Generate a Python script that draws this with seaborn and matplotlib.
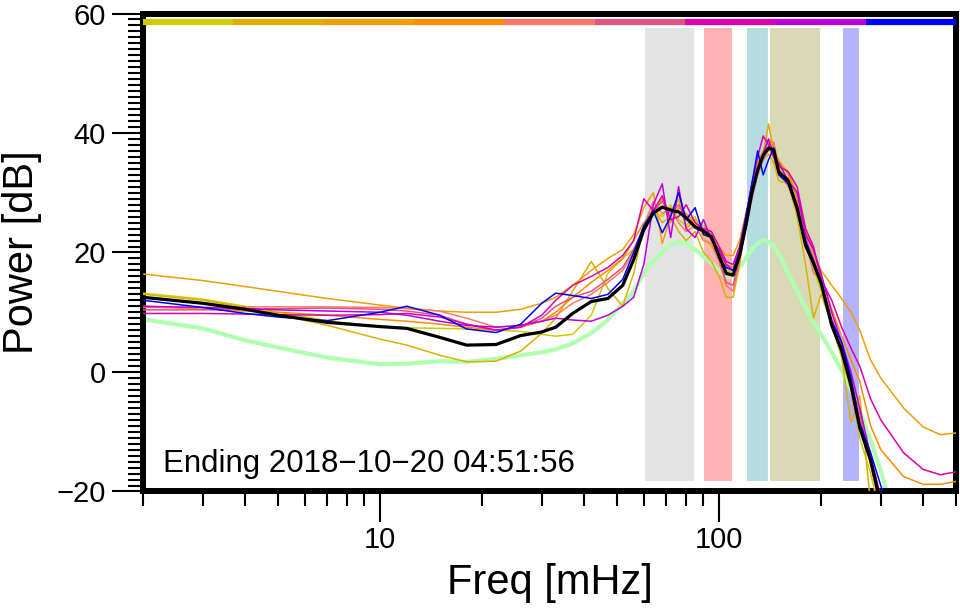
import numpy as np
import matplotlib
matplotlib.use("Agg")
import matplotlib.pyplot as plt
from matplotlib.ticker import MultipleLocator, LogLocator, NullFormatter
import seaborn as sns

# frequency grid (mHz) shared by all spectra
freq_mhz = [2, 3, 4, 5, 7, 10, 12, 15, 18, 22, 26, 30, 33, 37, 42, 47, 52, 56, 60, 64,
            68, 72, 76, 80, 85, 90, 95, 100, 105, 110, 115, 120, 125, 130, 135, 140, 145, 150, 160, 170,
            180, 190, 200, 215, 230, 245, 260, 280, 300, 350, 400, 450, 500]

# power (dB) of each station spectrum
yellow = [13.2, 12.2, 11.0, 10.0, 8.6, 7.6, 7.4, 7.3, 7.2, 7.0, 6.8, 6.3, 6.0, 6.3, 9.5,
          16.5, 19.0, 20.5, 24.0, 27.0, 26.0, 28.0, 25.5, 24.5, 26.0, 22.5, 21.0, 19.0, 17.0, 16.5,
          20.0, 26.0, 31.0, 34.5, 37.0, 38.5, 36.5, 34.5, 31.0, 28.5, 21.5, 17.5, 13.5, 8.0, 2.5,
          -3.0, -11.0, -17.0, -24.0, -40.0, -40.0, -40.0, -40.0]
gold = [13.0, 12.0, 10.8, 9.6, 7.8, 5.5, 4.5, 2.8, 1.7, 1.8, 3.5, 6.5, 9.0, 13.5, 18.5,
        14.0, 11.0, 16.5, 24.5, 27.5, 25.0, 26.0, 23.5, 22.0, 23.5, 20.0, 18.5, 16.0, 12.5, 12.5,
        18.0, 25.0, 30.5, 33.0, 35.5, 36.5, 35.0, 32.0, 31.5, 26.0, 18.0, 9.0, 13.0, 8.0, 2.5,
        -8.5, -4.0, -22.0, -30.0, -40.0, -40.0, -40.0, -40.0]
amber = [16.4, 15.3, 14.3, 13.5, 12.3, 11.2, 10.7, 10.2, 10.0, 10.0, 10.5, 11.5, 12.5, 14.5, 17.0,
         19.0, 20.5, 23.0, 27.5, 30.0, 21.5, 26.0, 29.0, 24.0, 25.5, 24.5, 23.0, 21.0, 19.5, 19.5,
         22.0, 26.5, 30.5, 34.0, 36.5, 41.5, 37.0, 35.5, 33.0, 30.0, 24.0, 20.0, 17.0, 14.5, 12.3,
         10.0, 7.0, 2.0, -1.0, -6.0, -9.2, -10.5, -10.2]
orange = [11.0, 10.5, 10.2, 10.0, 9.5, 8.8, 8.5, 8.0, 7.5, 7.0, 7.5, 8.5, 10.0, 12.5, 15.0,
          17.0, 19.0, 22.0, 25.0, 26.5, 29.0, 25.0, 27.5, 26.5, 25.0, 23.0, 22.5, 20.0, 18.0, 17.5,
          21.0, 26.0, 31.5, 35.0, 37.0, 39.0, 38.0, 35.0, 33.5, 29.0, 23.5, 20.0, 16.0, 10.5, 6.0,
          2.0, -1.5, -9.0, -13.0, -17.5, -18.8, -18.8, -18.3]
salmon = [10.8, 10.8, 10.9, 10.9, 10.9, 10.8, 10.6, 10.2, 9.0, 7.5, 7.8, 8.5, 9.5, 11.5, 13.0,
          15.0, 17.0, 20.0, 24.5, 28.5, 26.5, 27.5, 25.0, 23.5, 24.5, 22.0, 21.5, 18.5, 14.5, 13.5,
          18.5, 24.5, 29.5, 33.5, 36.0, 37.0, 38.5, 34.0, 31.0, 28.0, 22.0, 16.5, 15.5, 9.0, 5.0,
          -1.0, -7.5, -15.0, -22.0, -40.0, -40.0, -40.0, -40.0]
rose = [10.4, 10.4, 10.5, 10.6, 10.7, 10.5, 10.2, 9.5, 8.0, 7.0, 7.5, 9.0, 11.0, 12.5, 13.5,
        15.5, 17.5, 20.5, 24.0, 27.0, 28.5, 26.5, 28.0, 26.0, 24.0, 23.5, 23.0, 19.0, 15.0, 14.5,
        19.0, 24.0, 29.0, 33.0, 35.5, 37.5, 36.0, 33.0, 32.5, 27.0, 22.5, 19.0, 15.0, 8.5, 4.5,
        -2.5, -7.0, -15.5, -23.0, -40.0, -40.0, -40.0, -40.0]
magenta = [9.8, 9.8, 9.7, 9.6, 9.5, 9.6, 9.8, 9.2, 8.0, 7.0, 7.5, 9.5, 12.0, 14.5, 16.0,
           17.5, 19.5, 22.0, 29.0, 27.0, 29.5, 25.5, 26.0, 28.0, 25.0, 24.0, 23.5, 21.0, 18.5, 18.0,
           21.0, 26.0, 31.5, 36.0, 39.5, 38.0, 36.5, 34.5, 33.5, 31.0, 24.0, 21.0, 15.5, 12.0, 7.5,
           4.0, 1.0, -4.5, -8.0, -13.5, -16.3, -17.2, -16.7]
purple = [11.0, 10.8, 10.6, 10.4, 10.2, 10.0, 9.5, 8.5, 7.8, 7.5, 7.8, 8.5, 9.0, 8.7, 8.5,
          9.5, 11.0, 12.5, 18.0, 28.0, 31.5, 22.5, 31.0, 24.0, 22.5, 25.5, 22.0, 20.5, 18.0, 17.0,
          20.5, 25.5, 31.0, 34.0, 36.5, 39.0, 36.0, 35.0, 32.0, 30.0, 23.0, 20.5, 16.5, 10.0, 5.0,
          0.0, -6.0, -14.0, -21.0, -40.0, -40.0, -40.0, -40.0]
blue = [12.0, 10.8, 9.8, 9.2, 8.6, 10.0, 11.0, 9.5, 7.2, 6.6, 8.0, 11.5, 13.2, 12.8, 12.3,
        13.0, 15.5, 20.0, 24.5, 27.0, 23.3, 26.0, 30.0, 25.5, 27.5, 23.0, 22.5, 19.0, 17.5, 17.0,
        20.0, 26.0, 31.5, 37.0, 33.0, 35.5, 37.5, 33.0, 31.5, 27.0, 22.0, 18.5, 15.0, 8.5, 5.0,
        -1.0, -8.5, -13.5, -19.0, -30.0, -40.0, -40.0, -40.0]

# network mean and background noise model
mean_power = [12.5, 11.5, 10.5, 9.5, 8.3, 7.6, 7.3, 5.8, 4.5, 4.6, 6.1, 6.7, 7.5, 9.8, 11.8,
              12.3, 14.5, 18.8, 23.8, 26.6, 27.6, 27.1, 26.8, 25.8, 24.3, 23.6, 22.6, 19.5, 16.5, 16.2,
              19.5, 24.5, 30.0, 33.8, 36.3, 37.5, 37.2, 33.5, 32.0, 27.5, 21.2, 18.2, 14.9, 7.8, 3.6,
              -2.2, -9.3, -14.8, -22.0, -35.0, -40.0, -40.0, -40.0]
noise_model = [8.8, 7.3, 5.3, 4.1, 2.4, 1.3, 1.4, 1.8, 1.7, 2.2, 2.8, 3.3, 3.8, 4.8, 6.5,
               8.7, 11.5, 13.5, 16.5, 18.5, 20.0, 21.3, 21.8, 21.5, 20.5, 19.3, 18.2, 17.0, 16.0, 16.0,
               17.5, 19.0, 20.5, 21.5, 22.1, 21.8, 21.0, 19.8, 16.5, 13.5, 10.8, 8.3, 6.3, 3.3, 0.3,
               -3.0, -6.4, -11.5, -16.5, -30.0, -40.0, -40.0, -40.0]

station_series = [yellow, gold, amber, orange, salmon, rose, magenta, purple, blue]
station_colors = ["#cccc00", "#ddb000", "#eea000", "#ff8c00", "#ff7766",
                  "#dd5580", "#dd00aa", "#bb00dd", "#0000ff"]

# frequency bands (mHz)
band_edges = [(60, 85), (90, 110), (120, 140), (140, 200), (230, 260)]
band_colors = ["#e3e3e3", "#ffb3b3", "#b5dcdf", "#d9d9b5", "#b3b3ff"]

label_text = "Ending 2018\u221210\u221220 04:51:56"

sns.set_theme(style="ticks")
plt.rcParams["font.family"] = ["Liberation Sans", "DejaVu Sans"]
plt.rcParams["axes.unicode_minus"] = True

fig = plt.figure(figsize=(9.6, 6.11), dpi=100)
fig.patch.set_facecolor("white")
ax = fig.add_axes([0.149, 0.1956, 0.8468, 0.7823])
ax.set_facecolor("white")

for (lo, hi), c in zip(band_edges, band_colors):
    ax.axvspan(lo, hi, ymin=0.019, ymax=0.972, facecolor=c, edgecolor="white",
               linewidth=1.5, zorder=0.5)

sns.lineplot(x=freq_mhz, y=noise_model, color="#b0ffb0", linewidth=3.0, ax=ax, zorder=2)
for vals, c in zip(station_series, station_colors):
    sns.lineplot(x=freq_mhz, y=vals, color=c, linewidth=1.1, ax=ax, zorder=3)
sns.lineplot(x=freq_mhz, y=mean_power, color="black", linewidth=2.3, ax=ax, zorder=4)

# colour key strip along the top
n = len(station_colors)
for i, c in enumerate(station_colors):
    ax.axhline(58.6, xmin=i / n, xmax=(i + 1) / n, color=c, linewidth=4.5,
               solid_capstyle="butt", zorder=5)

ax.set_xscale("log")
ax.set_xlim(2, 500)
ax.set_ylim(-20, 60)
ax.set_xticks([10, 100])
ax.set_xticklabels(["10", "100"])
ax.xaxis.set_minor_locator(LogLocator(base=10, subs=np.arange(2, 10) * 1.0, numticks=20))
ax.xaxis.set_minor_formatter(NullFormatter())
ax.set_yticks([-20, 0, 20, 40, 60])
ax.yaxis.set_minor_locator(MultipleLocator(1))

ax.tick_params(which="major", length=22, width=1.5, color="black", labelsize=21,
               labelcolor="black", direction="out")
ax.tick_params(which="minor", length=11, width=1.5, color="black", direction="out")
ax.tick_params(axis="y", which="major", pad=5)
ax.tick_params(axis="x", which="major", pad=3)

for s in ax.spines.values():
    s.set_visible(True)
    s.set_color("black")
    s.set_linewidth(4.3)

ax.set_xlabel("Freq [mHz]", fontsize=30, color="black")
ax.set_ylabel("Power [dB]", fontsize=30, color="black")
ax.xaxis.set_label_coords(0.5, -0.150)
ax.yaxis.set_label_coords(-0.124, 0.5)

ax.text(0.025, 0.04, label_text, transform=ax.transAxes, fontsize=22.5,
        color="black", va="baseline", ha="left", zorder=6)

fig.savefig("out.png", dpi=100)
